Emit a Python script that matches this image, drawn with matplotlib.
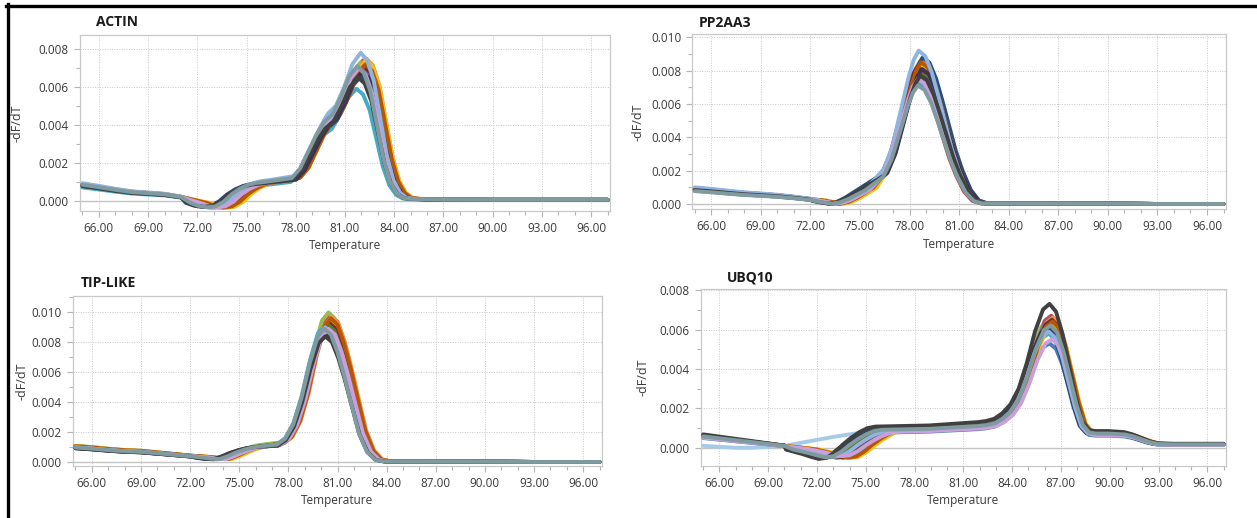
import numpy as np
import matplotlib
matplotlib.use("Agg")
import matplotlib.pyplot as plt
from matplotlib.lines import Line2D
from matplotlib.ticker import MultipleLocator, FormatStrFormatter

plt.rcParams["font.family"] = ["Open Sans", "DejaVu Sans"]

# one colour per well, drawn in this order (the last one ends up on top)
well_colors = ["#4a7ebb", "#be4b48", "#98b954", "#7d60a0", "#46aac5", "#f69240",
               "#2c4d75", "#f2c314", "#772c2a", "#5f7530", "#b65708", "#3f3151",
               "#8fb4e0", "#c9a0dc", "#404040", "#7f9ba0"]

# ---- ACTIN: mean melt curve ----
actin_temp = [65, 66, 67, 68, 69, 70, 71,
              72, 72.5, 73, 73.5, 74, 74.5, 75, 75.5, 76, 76.5,
              78, 78.5, 79, 79.5, 80, 80.5, 81, 81.5, 82, 82.4, 82.8, 83.2, 83.6, 84, 84.4, 84.8, 85.2,
              86, 88, 90, 93, 97]
actin_dfdt = [0.00085, 0.00072, 0.00058, 0.00046, 0.00040, 0.00034, 0.00020,
              -0.00012, -0.00028, -0.00035, -0.00030, -0.00005, 0.00035, 0.00065, 0.00085, 0.00095, 0.00100,
              0.00120, 0.00170, 0.00260, 0.00350, 0.00420, 0.00460, 0.00550, 0.00660, 0.00715, 0.00680,
              0.00580, 0.00400, 0.00220, 0.00100, 0.00040, 0.00015, 0.00010,
              0.00008, 0.00006, 0.00005, 0.00005, 0.00005]
actin_zones = (71.5, 77.5, 85.6)   # start of transition part, start of peak part, start of tail
actin_peak = [0.0072, 0.0074, 0.0073, 0.0070, 0.0059, 0.0075, 0.0066, 0.0074,
              0.0071, 0.0069, 0.0072, 0.0068, 0.0078, 0.0070, 0.0065, 0.0071]
actin_shift = [0.0, 0.1, -0.05, 0.05, -0.3, 0.3, 0.0, 0.3, 0.15, -0.1, 0.25, 0.05, -0.05, -0.15, -0.2, -0.25]
actin_onset = [-0.2, 0.5, 0.1, -0.3, -0.4, 0.7, -0.7, 0.8, 0.3, 0.0, 0.6, -0.5, -0.1, 0.2, -0.6, -0.4]

# ---- PP2AA3 ----
pp2_temp = [65, 66, 67, 68, 69, 70, 71, 72,
            72.5, 73, 73.5, 74, 74.5, 75, 75.5,
            76.5, 77, 77.5, 78, 78.3, 78.6, 79.0, 79.4, 79.8, 80.2, 80.6, 81.0, 81.5, 82.0, 82.5,
            83, 86, 90, 93, 97]
pp2_dfdt = [0.00090, 0.00082, 0.00072, 0.00063, 0.00057, 0.00050, 0.00040, 0.00028,
            0.00020, 0.00010, 0.00002, 0.00012, 0.00035, 0.00065, 0.00095,
            0.00190, 0.00310, 0.00500, 0.00690, 0.00780, 0.00830, 0.00800, 0.00710, 0.00580,
            0.00440, 0.00300, 0.00190, 0.00080, 0.00020, 0.00004,
            0.00003, 0.00003, 0.00002, 0.00000, 0.00000]
pp2_zones = (72.2, 76.0, 82.8)
pp2_peak = [0.0073, 0.0076, 0.0080, 0.0087, 0.0074, 0.0086, 0.0088, 0.0084,
            0.0082, 0.0079, 0.0085, 0.0081, 0.0092, 0.0075, 0.0077, 0.0071]
pp2_shift = [-0.05, -0.2, 0.0, 0.15, -0.1, 0.05, 0.2, 0.1, -0.15, 0.0, 0.1, 0.15, -0.05, -0.1, 0.05, -0.1]
pp2_onset = [0.0, 0.3, 0.2, -0.3, 0.1, 0.4, -0.4, 0.5, 0.2, -0.1, 0.3, -0.2, 0.0, 0.1, -0.4, -0.2]

# ---- TIP-LIKE ----
tip_temp = [65, 66, 67, 68, 69, 70, 71, 72,
            73, 73.5, 74, 74.5, 75, 75.5, 76, 76.5,
            77.5, 78, 78.5, 79, 79.5, 80, 80.4, 80.8, 81.2, 81.6, 82, 82.5, 83, 83.5, 84,
            87, 90, 93, 97]
tip_dfdt = [0.00100, 0.00092, 0.00082, 0.00074, 0.00070, 0.00060, 0.00050, 0.00040,
            0.00030, 0.00022, 0.00020, 0.00040, 0.00065, 0.00085, 0.00100, 0.00108,
            0.00120, 0.00160, 0.00260, 0.00440, 0.00680, 0.00870, 0.00920, 0.00880, 0.00760,
            0.00600, 0.00420, 0.00200, 0.00070, 0.00015, 0.00004,
            0.00003, 0.00002, 0.00000, 0.00000]
tip_zones = (72.5, 77.0, 85.0)
tip_peak = [0.0088, 0.0098, 0.0100, 0.0087, 0.0091, 0.0097, 0.0085, 0.0095,
            0.0093, 0.0092, 0.0096, 0.0086, 0.0090, 0.0089, 0.0084, 0.0089]
tip_shift = [-0.1, 0.2, 0.05, -0.05, -0.2, 0.25, -0.1, 0.15, 0.1, 0.0, 0.2, -0.05, -0.15, 0.05, -0.15, -0.2]
tip_onset = [-0.3, 0.3, 0.0, -0.4, 0.1, 0.5, -0.5, 0.6, 0.2, 0.0, 0.4, -0.3, 0.1, 0.2, -0.6, -0.2]

# ---- UBQ10 ----
ubq_temp = [65, 66, 67, 68, 69, 70,
            71, 72, 72.5, 73, 73.5, 74, 74.5, 75, 75.5, 76, 76.5,
            79, 80, 81, 82, 82.5, 83, 83.5, 84, 84.5, 85, 85.5, 86, 86.4, 86.8, 87.2, 87.6,
            88, 88.4, 88.8, 89.2, 90, 91, 91.5, 92, 92.5, 93,
            94, 96, 97]
ubq_dfdt = [0.00060, 0.00050, 0.00040, 0.00030, 0.00020, 0.00010,
            -0.00008, -0.00028, -0.00040, -0.00050, -0.00045, -0.00020, 0.00015, 0.00045, 0.00070, 0.00088, 0.00095,
            0.00100, 0.00105, 0.00110, 0.00115, 0.00120, 0.00130, 0.00155, 0.00195, 0.00265, 0.00380,
            0.00520, 0.00620, 0.00645, 0.00610, 0.00510, 0.00370,
            0.00230, 0.00120, 0.00080, 0.00075, 0.00075, 0.00070, 0.00060, 0.00045, 0.00030, 0.00020,
            0.00018, 0.00018, 0.00018]
ubq_zones = (70.5, 78.0, 93.5)
ubq_peak = [0.0053, 0.0067, 0.0064, 0.0066, 0.0058, 0.0066, 0.0060, 0.0063,
            0.0065, 0.0062, 0.0064, 0.0061, 0.0059, 0.0055, 0.0073, 0.0062]
ubq_shift = [-0.1, 0.0, -0.2, 0.0, -0.15, 0.1, -0.25, 0.15, 0.05, -0.1, 0.1, -0.2, -0.15, 0.05, -0.1, -0.05]
ubq_onset = [0.3, -0.8, -0.4, 0.6, 0.8, 1.0, -0.9, 1.1, 0.2, -0.2, 0.9, -0.6, 0.0, 0.5, -0.9, -0.5]
# one light blue well starts low and climbs early
ubq_odd_temp = [65, 66, 67, 68, 69, 70, 71, 72, 73, 74, 75, 76, 77]
ubq_odd_dfdt = [0.00010, 0.00005, 0.00000, 0.00000, 0.00005, 0.00010, 0.00025, 0.00040,
                0.00055, 0.00068, 0.00080, 0.00090, 0.00095]

W, H = 1257, 518
fig = plt.figure(figsize=(W / 100, H / 100), dpi=100)


def panel(box, title, title_xy, temp, dfdt, zones, peaks, shifts, onsets, ylim, ytop, ylab_x):
    left, top, right, bottom = box
    ax = fig.add_axes([left / W, 1 - bottom / H, (right - left) / W, (bottom - top) / H])
    temp = np.array(temp, dtype=float)
    dfdt = np.array(dfdt)
    lo, split, tail = zones
    mid = (temp >= lo) & (temp < split)
    pk = (temp >= split) & (temp < tail)
    for color, p, sh, on in zip(well_colors, peaks, shifts, onsets):
        x = temp.copy()
        x[mid] += on
        x[pk] += sh
        ax.plot(x, dfdt * p / dfdt.max(), color=color, lw=2.8,
                solid_joinstyle="round", solid_capstyle="round", zorder=3)
    ax.axhline(0, color="#c4c4c4", lw=1.0, zorder=1)
    ax.set_xlim(64.85, 97.15)
    ax.set_ylim(*ylim)
    ax.xaxis.set_major_locator(MultipleLocator(3))
    ax.xaxis.set_minor_locator(MultipleLocator(1))
    ax.xaxis.set_major_formatter(FormatStrFormatter("%.2f"))
    ax.set_yticks(np.arange(0, ytop + 0.0001, 0.002))
    ax.yaxis.set_minor_locator(MultipleLocator(0.001))
    ax.yaxis.set_major_formatter(FormatStrFormatter("%.3f"))
    ax.grid(True, which="major", color="#c8c8c8", linestyle=(0, (1, 1.5)), lw=0.7)
    ax.set_axisbelow(True)
    for s in ax.spines.values():
        s.set_color("#c8c8c8")
        s.set_linewidth(0.9)
    ax.tick_params(which="both", direction="out", color="#b4b4b4", width=0.8,
                   labelcolor="#3a3a3a", labelsize=8.5, pad=4)
    ax.tick_params(which="major", length=4)
    ax.tick_params(which="minor", length=3)
    ax.set_xlabel("Temperature", fontsize=8.5, color="#3a3a3a", labelpad=3)
    ax.set_ylabel("-dF/dT", fontsize=9, color="#3a3a3a")
    ax.yaxis.set_label_coords(ylab_x, 0.5)
    fig.text(title_xy[0] / W, 1 - title_xy[1] / H, title, fontsize=10, fontweight="bold",
             color="#1a1a1a", ha="left", va="center")
    return ax


panel((80, 35, 610, 211), "ACTIN", (95.7, 22.3), actin_temp, actin_dfdt, actin_zones,
      actin_peak, actin_shift, actin_onset, (-0.00054, 0.00874), 0.008, -0.107)
panel((692.3, 34.3, 1226, 209.3), "PP2AA3", (699, 23), pp2_temp, pp2_dfdt, pp2_zones,
      pp2_peak, pp2_shift, pp2_onset, (-0.00032, 0.01018), 0.010, -0.090)
panel((73, 296, 602, 465.7), "TIP-LIKE", (81, 283), tip_temp, tip_dfdt, tip_zones,
      tip_peak, tip_shift, tip_onset, (-0.00025, 0.0111), 0.010, -0.085)
ax_ubq = panel((700.7, 289.3, 1226, 465.7), "UBQ10", (727, 277), ubq_temp, ubq_dfdt, ubq_zones,
               ubq_peak, ubq_shift, ubq_onset, (-0.00091, 0.00804), 0.008, -0.098)
ax_ubq.plot(ubq_odd_temp, ubq_odd_dfdt, color="#a6cbe8", lw=2.8, solid_capstyle="round", zorder=2.9)

# black frame on the left and top edge of the picture
fig.add_artist(Line2D([7.7 / W, 7.7 / W], [0, 1 - 4 / H], color="black", lw=2.4))
fig.add_artist(Line2D([6 / W, 1], [1 - 5.6 / H, 1 - 5.6 / H], color="black", lw=2.4))

fig.savefig("out.png", dpi=100)
